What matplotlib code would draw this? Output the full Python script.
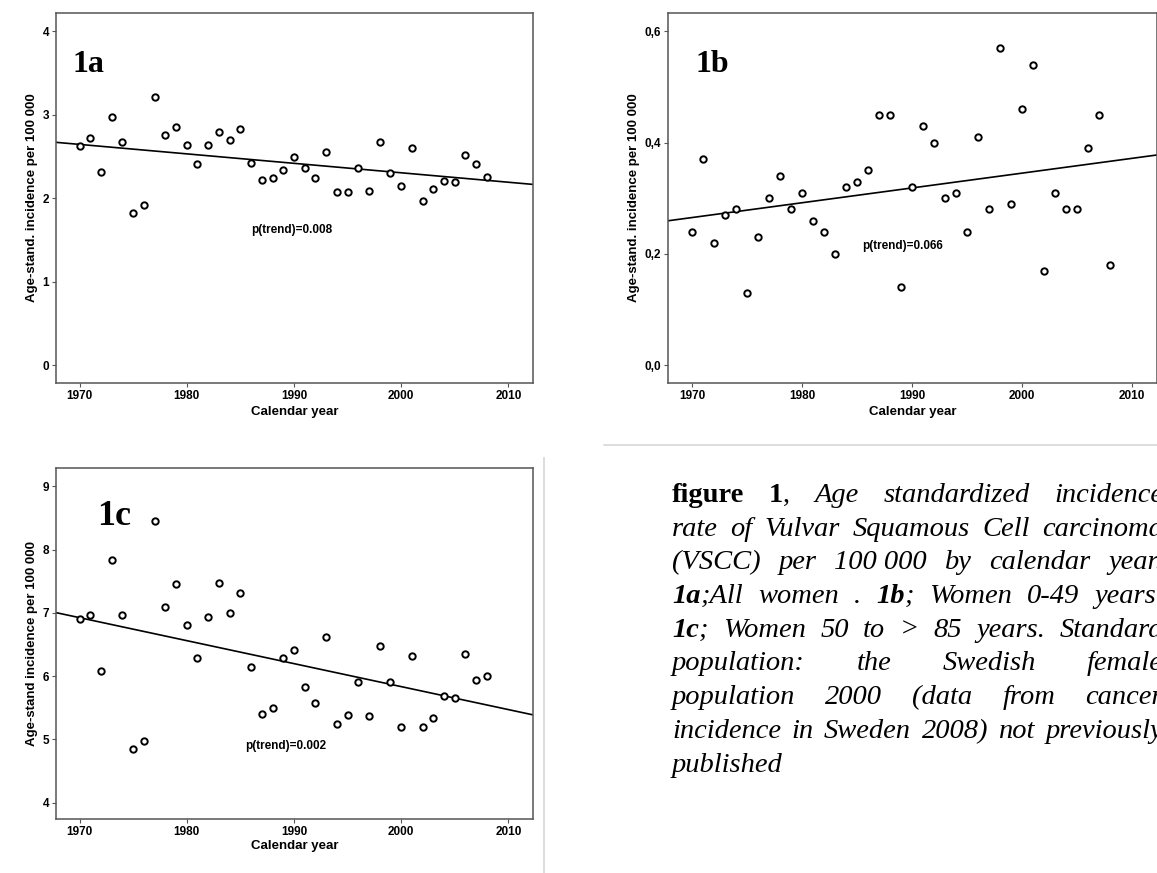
import numpy as np
import matplotlib
matplotlib.use('Agg')
import matplotlib.pyplot as plt
from matplotlib.lines import Line2D

# data
years = np.arange(1970, 2009)

rate_all = [2.63, 2.72, 2.32, 2.97, 2.67, 1.82, 1.92, 3.22, 2.76, 2.85,
            2.64, 2.41, 2.64, 2.80, 2.70, 2.83, 2.42, 2.22, 2.25, 2.34,
            2.50, 2.36, 2.25, 2.56, 2.08, 2.08, 2.37, 2.09, 2.68, 2.30,
            2.15, 2.60, 1.97, 2.11, 2.21, 2.20, 2.52, 2.41, 2.26]
rate_young = [0.24, 0.37, 0.22, 0.27, 0.28, 0.13, 0.23, 0.30, 0.34, 0.28,
              0.31, 0.26, 0.24, 0.20, 0.32, 0.33, 0.35, 0.45, 0.45, 0.14,
              0.32, 0.43, 0.40, 0.30, 0.31, 0.24, 0.41, 0.28, 0.57, 0.29,
              0.46, 0.54, 0.17, 0.31, 0.28, 0.28, 0.39, 0.45, 0.18]
rate_old = [6.91, 6.96, 6.08, 7.84, 6.97, 4.85, 4.97, 8.45, 7.10, 7.45,
            6.81, 6.28, 6.94, 7.47, 7.00, 7.32, 6.14, 5.40, 5.49, 6.29,
            6.41, 5.82, 5.58, 6.62, 5.25, 5.39, 5.90, 5.37, 6.48, 5.91,
            5.19, 6.31, 5.19, 5.34, 5.68, 5.65, 6.35, 5.93, 6.00]

x_ticks = [1970, 1980, 1990, 2000, 2010]
y_ticks_a = [0, 1, 2, 3, 4]
y_ticks_b = [0.0, 0.2, 0.4, 0.6]
y_labels_b = ['0,0', '0,2', '0,4', '0,6']
y_ticks_c = [4, 5, 6, 7, 8, 9]

panel_names = ['1a', '1b', '1c']
p_texts = ['p(trend)=0.008', 'p(trend)=0.066', 'p(trend)=0.002']
p_pos = [(1989.8, 1.62), (1989.1, 0.214), (1989.2, 4.89)]
y_titles = ['Age-stand. incidence per 100 000', 'Age-stand. incidence per 100 000',
            'Age-stand incidence per 100 000']

caption = [
    [[('figure', 'b')], [('1', 'b'), (',', 'r')], [('Age', 'i')], [('standardized', 'i')], [('incidence', 'i')]],
    [[(w, 'i')] for w in 'rate of Vulvar Squamous Cell carcinoma'.split()],
    [[('(VSCC)', 'i')], [('per', 'i')], [('100 000', 'i')], [('by', 'i')], [('calendar', 'i')], [('year.', 'i')]],
    [[('1a', 'bi'), (';All', 'i')], [('women', 'i')], [('.', 'i')], [('1b', 'bi'), (';', 'i')],
     [('Women', 'i')], [('0-49', 'i')], [('years.', 'i')]],
    [[('1c', 'bi'), (';', 'i')]] + [[(w, 'i')] for w in 'Women 50 to > 85 years. Standard'.split()],
    [[(w, 'i')] for w in 'population: the Swedish female'.split()],
    [[(w, 'i')] for w in 'population 2000 (data from cancer'.split()],
    [[(w, 'i')] for w in 'incidence in Sweden 2008) not previously'.split()],
    [[('published', 'i')]],
]

W, H = 1157, 873
plt.rcParams['font.family'] = ['Liberation Sans Narrow', 'Liberation Sans', 'DejaVu Sans']
plt.rcParams['font.weight'] = 'bold'

fig = plt.figure(figsize=(W / 100, H / 100), dpi=100)

# axes boxes in pixels: left, top, right, bottom
boxes = [(56, 13, 533, 383), (668, 13, 1157, 383), (56, 468, 533, 819)]
ylims = [(-0.21, 4.22), (-0.032, 0.633), (3.74, 9.29)]
rates = [rate_all, rate_young, rate_old]
yticks = [y_ticks_a, y_ticks_b, y_ticks_c]
ylab_x = [-0.050, -0.070, -0.050]
name_pos = [(0.067, 0.860, 23), (0.091, 0.860, 23), (0.122, 0.862, 26)]

for i in range(3):
    l, t, r, b = boxes[i]
    ax = fig.add_axes([l / W, 1 - b / H, (r - l) / W, (b - t) / H])
    yv = np.array(rates[i])
    ax.plot(years, yv, 'o', ms=4.6, mfc='white', mec='black', mew=1.4, zorder=3)
    k, c = np.polyfit(years, yv, 1)
    xl = np.array([1967.8, 2012.3])
    ax.plot(xl, k * xl + c, color='black', lw=1.2, zorder=2)
    ax.set_xlim(1967.8, 2012.3)
    ax.set_ylim(*ylims[i])
    ax.set_xticks(x_ticks)
    ax.set_yticks(yticks[i])
    if i == 1:
        ax.set_yticklabels(y_labels_b)
    for s in ax.spines.values():
        s.set_color('#555555')
        s.set_linewidth(1.1)
    ax.tick_params(length=3, width=0.8, color='#555555', labelsize=8.5, pad=2)
    ax.text(0.5, -0.078, 'Calendar year', transform=ax.transAxes, ha='center', va='center',
            fontsize=9.5)
    ax.text(ylab_x[i], 0.5, y_titles[i], transform=ax.transAxes, rotation=90,
            ha='center', va='center', fontsize=9.5)
    ax.text(p_pos[i][0], p_pos[i][1], p_texts[i], ha='center', va='center', fontsize=8.5)
    nx, ny, ns = name_pos[i]
    ax.text(nx, ny, panel_names[i], transform=ax.transAxes, ha='center', va='center',
            fontsize=ns, family='Liberation Serif', weight='bold')

# thin grey separators
fig.add_artist(Line2D([604 / W, 1], [1 - 445 / H] * 2, color='#d3d3d3', lw=1.1))
fig.add_artist(Line2D([544 / W] * 2, [1 - 458 / H, 0], color='#d3d3d3', lw=1.1))

# justified caption (right edge runs past the image, as in the scan)
renderer = fig.canvas.get_renderer()
styles = {'b': dict(weight='bold'), 'i': dict(style='italic', weight='normal'),
          'bi': dict(weight='bold', style='italic'), 'r': dict(weight='normal')}
cap_left, cap_right = 672, 1163
cap_top, cap_step = 502, 33.7
for n, line in enumerate(caption):
    y = 1 - (cap_top + n * cap_step) / H
    words = []
    for word in line:
        runs = []
        for s, st in word:
            t = fig.text(0, y, s, fontsize=20.5, family='Liberation Serif', va='baseline', **styles[st])
            runs.append((t, t.get_window_extent(renderer).width))
        words.append(runs)
    total = sum(w for runs in words for _, w in runs)
    if n < len(caption) - 1 and len(words) > 1:
        gap = (cap_right - cap_left - total) / (len(words) - 1)
    else:
        gap = 6
    x = cap_left
    for runs in words:
        for t, w in runs:
            t.set_x(x / W)
            x += w
        x += gap

fig.savefig('out.png', dpi=100)
